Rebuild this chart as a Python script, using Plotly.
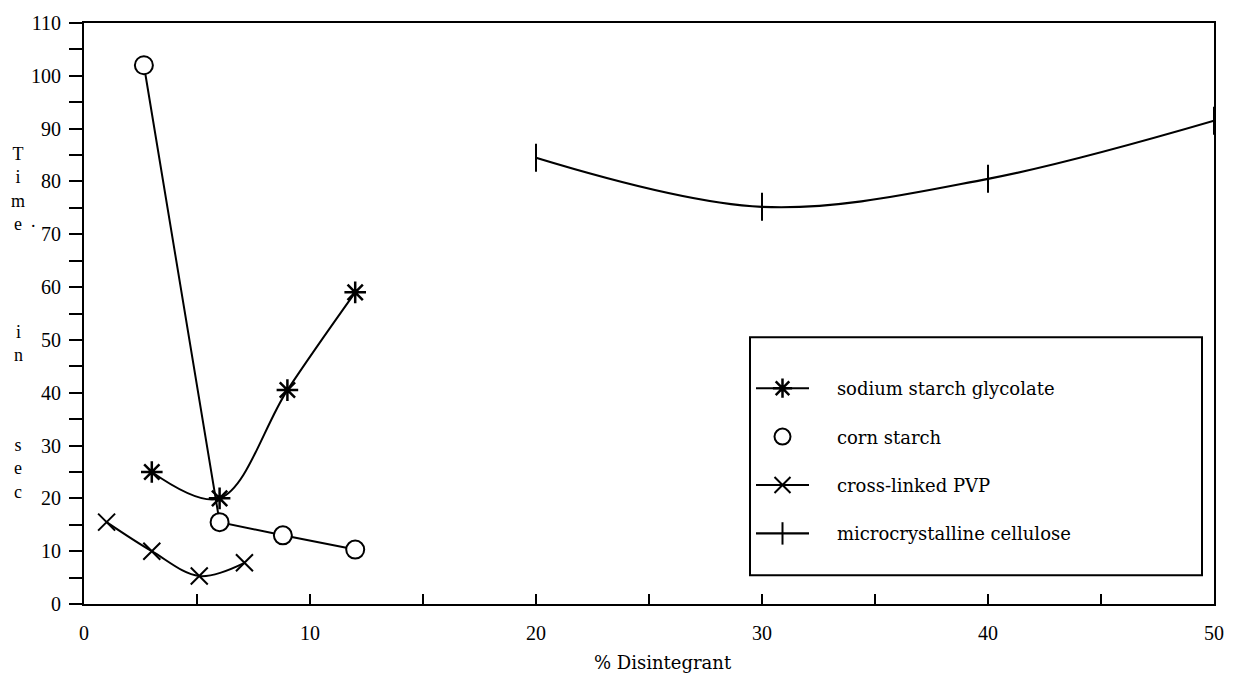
import plotly.graph_objects as go

# ---- data ----
ssg_x = [3, 6, 9, 12]
ssg_y = [25, 20, 40.5, 59]

corn_x = [2.65, 6, 8.8, 12]
corn_y = [102, 15.5, 13, 10.3]

pvp_x = [1, 3, 5.1, 7.1]
pvp_y = [15.5, 10, 5.3, 7.8]

mcc_x = [20, 30, 40, 50]
mcc_y = [84.5, 75.2, 80.5, 91.5]

names = ["sodium starch glycolate", "corn starch", "cross-linked PVP", "microcrystalline cellulose"]

x_ticks = [0, 10, 20, 30, 40, 50]
y_ticks = list(range(0, 111, 10))

SERIF = "Liberation Serif"
LEGFONT = "DejaVu Serif"
BLACK = "black"
PAD = "\u00a0" * 4

fig = go.Figure()

# sodium starch glycolate
fig.add_trace(go.Scatter(
    x=ssg_x, y=ssg_y, mode="lines+markers", name=PAD + names[0],
    line=dict(color=BLACK, width=2, shape="spline"),
    marker=dict(symbol="asterisk-open", size=18, color=BLACK, line=dict(color=BLACK, width=2.5)),
    legendgroup="a", cliponaxis=False))

# corn starch: connecting line (no legend) + markers
fig.add_trace(go.Scatter(
    x=corn_x, y=corn_y, mode="lines", showlegend=False,
    line=dict(color=BLACK, width=2), cliponaxis=False, hoverinfo="skip",
    legendgroup="b0"))
fig.add_trace(go.Scatter(
    x=corn_x, y=corn_y, mode="markers", name=PAD + names[1],
    marker=dict(symbol="circle", size=18, color="white", line=dict(color=BLACK, width=2)),
    legendgroup="b", cliponaxis=False))

# cross-linked PVP
fig.add_trace(go.Scatter(
    x=pvp_x, y=pvp_y, mode="lines+markers", name=PAD + names[2],
    line=dict(color=BLACK, width=2, shape="spline"),
    marker=dict(symbol="x-thin-open", size=17, color=BLACK, line=dict(color=BLACK, width=2)),
    legendgroup="c", cliponaxis=False))

# microcrystalline cellulose
fig.add_trace(go.Scatter(
    x=mcc_x, y=mcc_y, mode="lines+markers", name=PAD + names[3],
    line=dict(color=BLACK, width=2.2, shape="spline"),
    marker=dict(symbol="line-ns-open", size=20, color=BLACK, line=dict(color=BLACK, width=2)),
    legendgroup="d", cliponaxis=False))

L, R, T, B = 84, 29, 18, 70
W, H = 1243, 674
pw, ph = W - L - R, H - T - B

def px(xp):
    return (xp - L) / pw

def py(yp):
    return (H - B - yp) / ph

fig.update_layout(
    width=W, height=H,
    margin=dict(l=L, r=R, t=T, b=B),
    paper_bgcolor="white", plot_bgcolor="white",
    font=dict(family=SERIF, size=20, color=BLACK),
    showlegend=True,
    legend=dict(
        x=px(751), y=py(368), xanchor="left", yanchor="top",
        bgcolor="rgba(0,0,0,0)", borderwidth=0,
        font=dict(family=LEGFONT, size=18, color=BLACK),
        itemwidth=53, tracegroupgap=22, traceorder="grouped",
    ),
    xaxis=dict(
        range=[0, 50], tickmode="array", tickvals=x_ticks, ticktext=[str(v) for v in x_ticks],
        ticks="inside", ticklen=10, tickwidth=2, tickcolor=BLACK,
        minor=dict(dtick=5, tick0=0, ticks="inside", ticklen=10, tickwidth=2, tickcolor=BLACK),
        showline=True, linewidth=2, linecolor=BLACK, mirror=True,
        showgrid=False, zeroline=False,
        tickfont=dict(family=SERIF, size=20, color=BLACK),
        ticklabelstandoff=10,
    ),
    yaxis=dict(
        range=[0, 110], tickmode="array", tickvals=y_ticks, ticktext=[str(v) for v in y_ticks],
        ticks="outside", ticklen=13, tickwidth=2, tickcolor=BLACK,
        minor=dict(dtick=5, tick0=0, ticks="outside", ticklen=13, tickwidth=2, tickcolor=BLACK),
        showline=True, linewidth=2, linecolor=BLACK, mirror=True,
        showgrid=False, zeroline=False,
        tickfont=dict(family=SERIF, size=20, color=BLACK),
        ticklabelstandoff=4,
    ),
    shapes=[dict(type="rect", xref="paper", yref="paper",
                 x0=px(750), x1=px(1202), y0=py(575), y1=py(335),
                 line=dict(color=BLACK, width=2), fillcolor="rgba(0,0,0,0)")],
)

ann_font = dict(family=SERIF, size=18, color=BLACK)
annotations = [
    dict(text="T<br>i<br>m<br>e", x=px(18), y=py(185)),
    dict(text=".", x=px(33), y=py(218)),
    dict(text="i<br>n", x=px(18), y=py(341)),
    dict(text="s<br>e<br>c", x=px(18), y=py(467)),
]
for a in annotations:
    fig.add_annotation(xref="paper", yref="paper", showarrow=False,
                       xanchor="center", yanchor="middle", font=ann_font, **a)

fig.add_annotation(text="% Disintegrant", xref="paper", yref="paper",
                   x=px(663), y=py(663), showarrow=False,
                   xanchor="center", yanchor="middle",
                   font=dict(family=LEGFONT, size=18, color=BLACK))

fig.write_html("out.html")
